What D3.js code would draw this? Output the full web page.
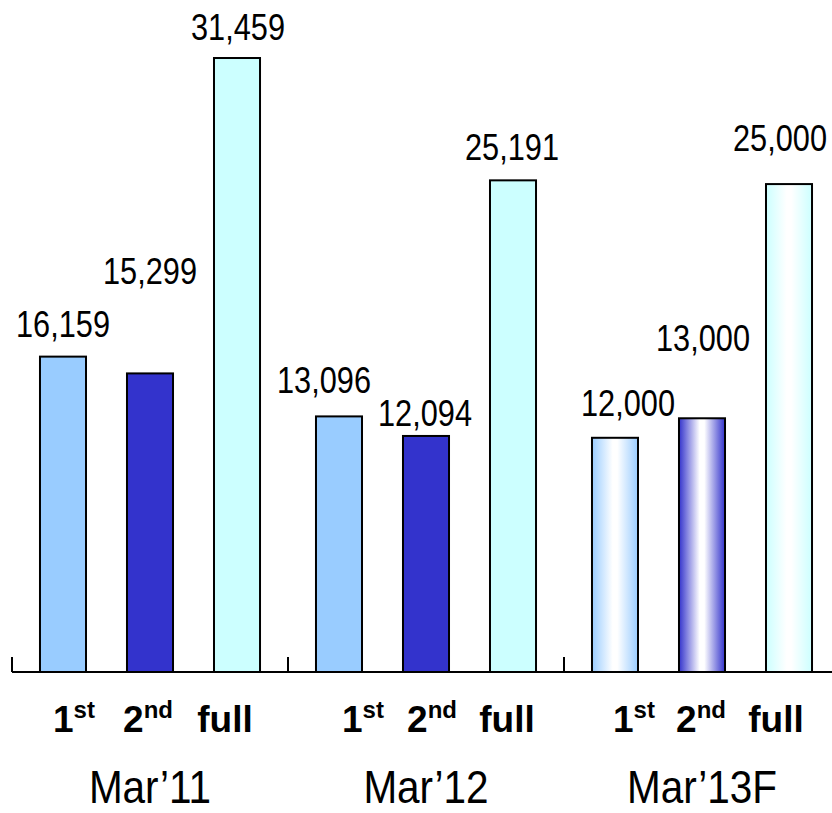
<!DOCTYPE html>
<html><head><meta charset="utf-8">
<script src="https://cdn.jsdelivr.net/npm/d3@7"></script>
<style>html,body{margin:0;padding:0;background:#fff;overflow:hidden}</style>
</head><body>
<script>
// ---- data ----
const groups = ["Mar’11", "Mar’12", "Mar’13F"];
const periods = ["1st", "2nd", "full"];
const values1st = [16159, 13096, 12000];
const values2nd = [15299, 12094, 13000];
const valuesFull = [31459, 25191, 25000];
const forecastGroups = ["Mar’13F"];

// ---- layout / style ----
const W = 832, H = 813;
const colors = {"1st": "#99CCFF", "2nd": "#3333CC", "full": "#CCFFFF"};
// value label offsets (dx from bar centre, dy from bar top) per group x period
const labelDx = [[0, 0, 1], [-15, -1, -1], [13, 1, -9]];
const labelDy = [[-20, -89, -18], [-23, -10, -20], [-22, -67, -33]];
// category label offsets from bar centre
const catDx = [[11, -2, -12], [24, 6, -6], [19, -1, -13]];
const narrowFont = "'Liberation Sans', Arial, sans-serif";

const series = {"1st": values1st, "2nd": values2nd, "full": valuesFull};
const data = [];
groups.forEach((g, gi) => periods.forEach((p, pi) => data.push({g, gi, p, pi, v: series[p][gi]})));

const svg = d3.select("body").append("svg").attr("width", W).attr("height", H);
const defs = svg.append("defs");
periods.forEach(p => {
  const lg = defs.append("linearGradient").attr("id", "grad-" + p)
    .attr("x1", "0%").attr("x2", "100%").attr("y1", "0%").attr("y2", "0%");
  lg.append("stop").attr("offset", "0%").attr("stop-color", colors[p]);
  lg.append("stop").attr("offset", "45%").attr("stop-color", "#ffffff");
  lg.append("stop").attr("offset", "55%").attr("stop-color", "#ffffff");
  lg.append("stop").attr("offset", "100%").attr("stop-color", colors[p]);
});

const x0 = d3.scaleBand().domain(groups).range([12, 840]).padding(0);
const x1 = d3.scaleBand().domain(periods).range([0, x0.bandwidth()])
  .paddingInner(0.471).paddingOuter(0.3216);
const y = d3.scaleLinear().domain([0, 32000]).range([672, 672 - 32000 * 0.019517]);

const cx = d => x0(d.g) + x1(d.p) + x1.bandwidth() / 2;

// bars
svg.append("g").selectAll("rect").data(data).join("rect")
  .attr("x", d => x0(d.g) + x1(d.p))
  .attr("y", d => y(d.v))
  .attr("width", x1.bandwidth())
  .attr("height", d => y(0) - y(d.v))
  .attr("fill", d => forecastGroups.includes(d.g) ? `url(#grad-${d.p})` : colors[d.p])
  .attr("stroke", "#000").attr("stroke-width", 2);

// axis
svg.append("line").attr("x1", 12).attr("x2", W).attr("y1", y(0)).attr("y2", y(0))
  .attr("stroke", "#000").attr("stroke-width", 2);
svg.append("g").selectAll("line").data(groups).join("line")
  .attr("x1", d => x0(d)).attr("x2", d => x0(d))
  .attr("y1", y(0) - 15).attr("y2", y(0))
  .attr("stroke", "#000").attr("stroke-width", 2);

// value labels (condensed look via horizontal scale)
const fmt = d3.format(",");
svg.append("g").selectAll("g").data(data).join("g")
  .attr("transform", d => `translate(${cx(d) + labelDx[d.gi][d.pi]},${y(d.v) + labelDy[d.gi][d.pi]}) scale(0.83,1)`)
  .append("text")
  .attr("text-anchor", "middle")
  .attr("font-family", narrowFont)
  .attr("font-size", 37).attr("fill", "#000")
  .text(d => fmt(d.v));

// category labels with superscripts
const cat = svg.append("g").selectAll("text").data(data).join("text")
  .attr("x", d => cx(d) + catDx[d.gi][d.pi])
  .attr("y", 732)
  .attr("text-anchor", "middle")
  .attr("font-family", "'Liberation Sans', Arial, sans-serif")
  .attr("font-weight", "bold").attr("font-size", 37).attr("fill", "#000");
cat.each(function(d) {
  const t = d3.select(this);
  const m = d.p.match(/^(\d)(\w+)$/);
  if (m) {
    t.append("tspan").text(m[1]);
    t.append("tspan").attr("font-size", 24).attr("dy", -14).text(m[2]);
  } else {
    t.text(d.p);
  }
});

// group labels
svg.append("g").selectAll("g").data(groups).join("g")
  .attr("transform", d => `translate(${x0(d) + x0.bandwidth() / 2},803) scale(0.88,1)`)
  .append("text")
  .attr("text-anchor", "middle")
  .attr("font-family", narrowFont)
  .attr("font-size", 46).attr("fill", "#000")
  .text(d => d);
</script>
</body></html>
